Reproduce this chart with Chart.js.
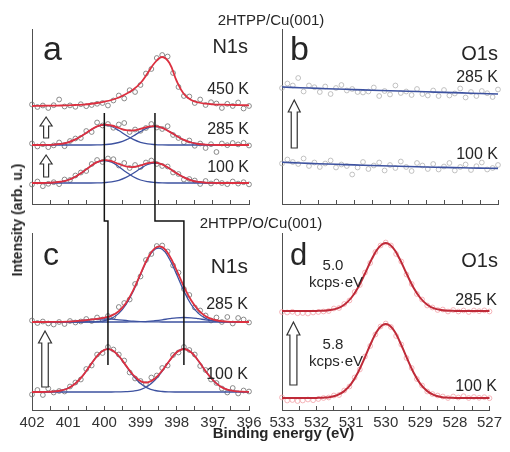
<!DOCTYPE html>
<html><head><meta charset="utf-8">
<title>2HTPP XPS</title>
<script src="https://cdn.jsdelivr.net/npm/chart.js@4.4.1/dist/chart.umd.min.js"></script>
<style>
html,body{margin:0;padding:0;background:#fff;}
#wrap{position:relative;width:510px;height:452px;overflow:hidden;font-family:"Liberation Sans",Arial,Helvetica,sans-serif;color:#262626;background:#fff;}
#wrap canvas{position:absolute;left:0;top:0;}
.lbl{position:absolute;white-space:nowrap;line-height:1;}
</style></head><body>
<div id="wrap">
<canvas id="cA" width="510" height="452"></canvas>
<canvas id="cB" width="510" height="452"></canvas>
<canvas id="cC" width="510" height="452"></canvas>
<canvas id="cD" width="510" height="452"></canvas>
<canvas id="cO" width="510" height="452"></canvas>
</div>
<script>
// ---------- DATA ----------
// energy grids (eV)
const nGrid = [402.0,401.8,401.6,401.4,401.2,401.0,400.8,400.6,400.4,400.2,400.0,399.8,399.6,399.4,399.2,399.0,398.8,398.6,398.4,398.2,398.0,397.8,397.6,397.4,397.2,397.0,396.8,396.6,396.4,396.2,396.0];
const oGrid = [533.0,532.8,532.6,532.4,532.2,532.0,531.8,531.6,531.4,531.2,531.0,530.8,530.6,530.4,530.2,530.0,529.8,529.6,529.4,529.2,529.0,528.8,528.6,528.4,528.2,528.0,527.8,527.6,527.4,527.2,527.0];
const bGrid = [533.0,532.5,532.0,531.5,531.0,530.5,530.0,529.5,529.0,528.5,528.0,527.5,527.0];
const nPtsE = [402.00,401.85,401.70,401.55,401.40,401.25,401.10,400.95,400.80,400.65,400.50,400.35,400.20,400.05,399.90,399.75,399.60,399.45,399.30,399.15,399.00,398.85,398.70,398.55,398.40,398.25,398.10,397.95,397.80,397.65,397.50,397.35,397.20,397.05,396.90,396.75,396.60,396.45,396.30,396.15,396.00];
const oPtsE = [533.00,532.85,532.70,532.55,532.40,532.25,532.10,531.95,531.80,531.65,531.50,531.35,531.20,531.05,530.90,530.75,530.60,530.45,530.30,530.15,530.00,529.85,529.70,529.55,529.40,529.25,529.10,528.95,528.80,528.65,528.50,528.35,528.20,528.05,527.90,527.75,527.60,527.45,527.30,527.15,527.00];

// panel a: 2HTPP/Cu(001) N1s
const a450Fit = [98.0,98.2,98.3,98.4,98.5,98.7,99.0,99.4,100.0,101.0,102.3,104.0,106.5,110.0,114.5,121.0,131.0,141.5,147.0,141.0,123.0,110.0,104.0,101.5,100.3,99.7,99.4,99.2,99.0,98.8,98.7];
const a450Pts = [99.5,97.0,98.5,96.0,98.8,104.5,97.5,98.6,97.2,99.8,97.8,99.0,100.2,101.0,98.5,103.5,108.5,105.5,113.8,112.0,119.0,130.5,135.0,146.0,149.0,147.5,131.0,117.0,108.0,107.5,101.0,104.5,99.0,101.8,100.5,96.0,100.2,98.0,101.5,95.5,98.0];
const a285Fit = [59.0,59.0,59.1,59.4,60.1,61.7,64.6,68.7,73.5,77.6,79.4,78.5,76.0,73.8,73.6,75.1,77.2,77.9,76.2,72.4,68.0,64.1,61.5,60.0,59.4,59.1,59.0,59.0,59.0,59.0,59.0];
const a285CompL = [59.0,59.0,59.1,59.4,60.1,61.7,64.6,68.7,73.5,77.5,79.0,77.5,73.5,68.7,64.6,61.7,60.1,59.4,59.1,59.0,59.0,59.0,59.0,59.0,59.0,59.0,59.0,59.0,59.0,59.0,59.0];
const a285CompR = [59.0,59.0,59.0,59.0,59.0,59.0,59.0,59.0,59.0,59.1,59.4,60.0,61.5,64.1,68.0,72.4,76.1,77.5,76.1,72.4,68.0,64.1,61.5,60.0,59.4,59.1,59.0,59.0,59.0,59.0,59.0];
const a285Pts = [60.5,57.5,59.8,56.8,58.6,61.5,57.8,63.0,65.5,66.0,73.0,72.0,81.5,78.5,80.0,76.2,79.5,81.0,72.0,74.5,73.2,76.0,80.0,76.5,75.0,77.8,69.0,66.0,61.8,63.5,58.2,60.5,56.0,59.8,52.0,60.5,58.8,61.0,59.6,61.2,58.5];
const a100Fit = [21.0,21.0,21.1,21.5,22.3,24.0,27.3,32.0,37.3,41.9,43.9,42.9,40.0,37.6,37.0,38.5,40.8,41.5,39.6,35.5,30.7,26.6,23.7,22.1,21.4,21.1,21.0,21.0,21.0,21.0,21.0];
const a100CompL = [21.0,21.0,21.1,21.5,22.3,24.0,27.3,32.0,37.3,41.8,43.5,41.8,37.3,32.0,27.3,24.0,22.3,21.5,21.1,21.0,21.0,21.0,21.0,21.0,21.0,21.0,21.0,21.0,21.0,21.0,21.0];
const a100CompR = [21.0,21.0,21.0,21.0,21.0,21.0,21.0,21.0,21.0,21.1,21.4,22.1,23.7,26.6,30.7,35.5,39.5,41.0,39.5,35.5,30.7,26.6,23.7,22.1,21.4,21.1,21.0,21.0,21.0,21.0,21.0];
const a100Pts = [19.5,22.5,17.8,20.2,21.8,19.8,24.5,24.0,28.5,31.5,33.0,40.0,44.0,42.0,45.5,44.8,38.5,41.0,36.0,39.0,37.0,41.5,43.5,40.0,38.0,37.5,31.5,30.0,24.5,25.0,23.5,20.0,23.0,20.5,22.5,21.0,19.8,22.5,20.4,21.8,19.6];

// panel b: 2HTPP/Cu(001) O1s
const b285Fit = [117.0,116.3,115.6,115.0,114.4,113.8,113.3,112.7,112.2,111.6,111.1,110.5,110.0];
const b285Pts = [116.0,120.5,118.5,126.0,112.5,118.5,116.8,112.0,117.5,110.0,116.0,119.0,113.5,115.0,112.0,111.5,112.5,116.5,108.0,113.0,109.5,118.5,111.0,112.5,109.0,115.0,110.0,108.5,113.5,108.0,114.0,108.5,110.5,115.5,106.5,112.0,108.0,113.0,110.8,107.0,114.5];
const b100Fit = [41.7,41.0,40.3,39.7,39.1,38.5,38.0,37.5,37.0,36.6,36.2,35.9,35.6];
const b100Pts = [40.5,44.5,42.0,40.0,45.5,38.0,41.5,37.0,40.5,43.5,36.5,39.5,38.0,29.5,36.5,42.0,35.0,38.5,41.5,33.5,39.0,36.0,42.5,37.0,33.0,41.0,38.5,35.0,40.0,34.5,37.5,41.0,33.5,37.0,39.5,34.0,37.8,41.5,34.5,36.0,39.0];

// panel c: 2HTPP/O/Cu(001) N1s
const c285Fit = [88.0,88.0,88.0,88.1,88.2,88.4,88.8,89.5,90.3,91.2,92.3,94.4,98.8,107.0,119.8,136.0,151.8,161.9,162.9,154.3,139.6,123.4,109.7,99.9,93.8,90.6,89.0,88.4,88.1,88.0,88.0];
const c285CompM = [88.0,88.0,88.0,88.0,88.0,88.0,88.0,88.0,88.1,88.4,89.3,91.6,96.6,105.5,118.9,135.4,151.0,160.7,160.7,151.0,135.4,118.9,105.5,96.6,91.6,89.3,88.4,88.1,88.0,88.0,88.0];
const c285CompL = [88.0,88.0,88.0,88.1,88.2,88.4,88.8,89.5,90.2,90.8,91.0,90.8,90.2,89.5,88.8,88.4,88.2,88.1,88.0,88.0,88.0,88.0,88.0,88.0,88.0,88.0,88.0,88.0,88.0,88.0,88.0];
const c285CompR = [88.0,88.0,88.0,88.0,88.0,88.0,88.0,88.0,88.0,88.0,88.0,88.0,88.0,88.0,88.1,88.3,88.6,89.3,90.2,91.3,92.2,92.5,92.2,91.3,90.2,89.3,88.6,88.3,88.1,88.0,88.0];
const c285Pts = [89.5,87.0,88.5,86.5,85.5,88.0,86.0,89.0,87.5,88.5,91.0,89.0,92.5,90.5,94.0,93.5,103.0,107.0,110.5,126.0,133.5,150.0,156.0,164.0,164.5,158.5,144.5,137.5,121.0,115.0,102.5,99.5,94.5,89.5,92.5,88.0,93.0,86.5,92.0,90.5,87.5];
const c100Fit = [18.0,18.0,18.1,18.5,19.5,21.8,26.5,34.1,44.1,53.9,60.1,60.1,54.0,44.4,35.0,28.9,27.6,31.5,39.4,49.3,57.7,61.0,57.7,49.2,38.9,30.0,23.8,20.4,18.9,18.3,18.1];
const c100CompL = [18.0,18.0,18.1,18.5,19.5,21.8,26.5,34.1,44.1,53.9,60.1,60.1,53.9,44.1,34.1,26.5,21.8,19.5,18.5,18.1,18.0,18.0,18.0,18.0,18.0,18.0,18.0,18.0,18.0,18.0,18.0];
const c100CompR = [18.0,18.0,18.0,18.0,18.0,18.0,18.0,18.0,18.0,18.0,18.0,18.0,18.1,18.3,18.9,20.4,23.8,30.0,38.9,49.2,57.7,61.0,57.7,49.2,38.9,30.0,23.8,20.4,18.9,18.3,18.1];
const c100Pts = [15.5,20.0,15.0,21.5,17.5,19.0,18.5,23.5,27.5,30.5,41.0,44.5,55.5,57.0,63.0,60.5,55.5,49.5,37.5,31.5,29.0,26.0,32.5,34.5,42.0,44.5,55.0,57.5,63.0,60.0,55.5,44.0,40.0,30.5,27.0,21.5,17.5,22.0,16.5,19.5,18.5];

// panel d: 2HTPP/O/Cu(001) O1s
const d285Fit = [99.0,99.0,99.0,99.0,99.0,99.1,99.3,100.0,101.6,105.3,112.0,122.6,136.5,151.2,162.6,167.0,162.6,151.2,136.5,122.6,112.0,105.3,101.6,100.0,99.3,99.1,99.0,99.0,99.0,99.0,99.0];
const d285Pts = [98.0,97.5,98.2,96.8,97.0,96.5,97.5,98.0,98.5,99.0,101.5,102.0,106.0,109.5,118.0,125.0,137.5,147.0,158.0,164.5,167.5,164.5,156.0,148.5,135.5,126.0,116.0,110.5,104.5,102.5,100.0,100.5,98.5,100.0,98.5,99.5,98.0,99.5,98.8,99.6,98.5];
const d100Fit = [12.0,12.0,12.0,12.0,12.0,12.1,12.35,13.1,14.9,18.9,26.1,37.7,52.8,68.8,81.3,86.0,81.3,68.8,52.8,37.7,26.1,18.9,14.9,13.1,12.35,12.1,12.0,12.0,12.0,12.0,12.0];
const d100Pts = [12.5,9.5,10.0,9.0,9.5,10.5,9.8,11.0,12.0,12.5,14.5,15.0,19.5,23.5,32.5,40.5,53.5,64.0,75.5,83.5,86.5,83.0,74.0,65.5,52.0,42.0,31.0,24.5,18.5,16.0,14.5,13.5,12.0,13.5,12.5,13.8,12.0,13.0,12.2,12.8,11.8];

// ---------- STYLE / LAYOUT ----------
const RED = '#dc3040', BLUE = '#3d52a0', GRAY = '#6e6e6e', LGRAY = '#b2b2b2', PINK = '#f2a2a8', DRED = '#bf2a38', AX = '#505050';
const FONT = '"Liberation Sans", Arial, Helvetica, sans-serif';
const W = 510, H = 452, LABEL_H = 30;

const xy = (xs, ys) => xs.map((x, i) => ({x: x, y: ys[i]}));
const line = (xs, ys, color, w, order) => ({data: xy(xs, ys), showLine: true, borderColor: color, borderWidth: w, pointRadius: 0, tension: 0.4, order: order, clip: 2});
const dots = (xs, ys, color, order) => ({data: xy(xs, ys), showLine: false, pointRadius: 2.4, pointBorderWidth: 0.8, pointBorderColor: color, pointBackgroundColor: 'rgba(0,0,0,0)', order: order, clip: 4});

function xScale(min, max, showLabels) {
  return {
    type: 'linear', position: 'bottom', min: min, max: max, reverse: true,
    afterFit: s => { s.height = showLabels ? LABEL_H : 0; },
    ticks: {stepSize: 0.5, autoSkip: false, maxRotation: 0, minRotation: 0, padding: 8, color: '#333',
      font: {family: FONT, size: 15},
      callback: v => (showLabels && Math.abs(v - Math.round(v)) < 1e-6) ? String(Math.round(v)) : ''},
    grid: {display: true, drawOnChartArea: false, drawTicks: true, tickLength: -4, color: AX, lineWidth: 1},
    border: {display: true, color: AX, width: 1}
  };
}
function yScale(max) {
  return {
    type: 'linear', position: 'left', min: 0, max: max,
    afterFit: s => { s.width = 0; },
    ticks: {display: false},
    grid: {display: true, drawOnChartArea: false, drawTicks: false},
    border: {display: true, color: AX, width: 1}
  };
}
function makeChart(id, datasets, xs, ys, pad) {
  return new Chart(document.getElementById(id), {
    type: 'scatter',
    data: {datasets: datasets},
    options: {
      responsive: false, maintainAspectRatio: false, animation: false, devicePixelRatio: 1, events: [],
      layout: {padding: pad},
      plugins: {legend: {display: false}, tooltip: {enabled: false}},
      scales: {x: xs, y: ys}
    }
  });
}

const chartA = makeChart('cA', [
  line(nGrid, a450Fit, RED, 1.8, 0), line(nGrid, a285Fit, RED, 1.8, 0), line(nGrid, a100Fit, RED, 1.8, 0),
  line(nGrid, a285CompL, BLUE, 1.3, 1), line(nGrid, a285CompR, BLUE, 1.3, 1),
  line(nGrid, a100CompL, BLUE, 1.3, 1), line(nGrid, a100CompR, BLUE, 1.3, 1),
  dots(nPtsE, a450Pts, GRAY, 2), dots(nPtsE, a285Pts, GRAY, 2), dots(nPtsE, a100Pts, GRAY, 2)
], xScale(396, 402, false), yScale(175), {left: 32, top: 29, right: W - 249, bottom: H - 204});

const chartB = makeChart('cB', [
  line(bGrid, b285Fit, BLUE, 1.6, 0), line(bGrid, b100Fit, BLUE, 1.6, 0),
  dots(oPtsE, b285Pts, LGRAY, 2), dots(oPtsE, b100Pts, LGRAY, 2)
], xScale(527, 533, false), yScale(175), {left: 282, top: 29, right: W - 498, bottom: H - 204});

const chartC = makeChart('cC', [
  line(nGrid, c285Fit, RED, 1.8, 0), line(nGrid, c100Fit, RED, 1.8, 0),
  line(nGrid, c285CompM, BLUE, 1.3, 1), line(nGrid, c285CompL, BLUE, 1.3, 1), line(nGrid, c285CompR, BLUE, 1.3, 1),
  line(nGrid, c100CompL, BLUE, 1.3, 1), line(nGrid, c100CompR, BLUE, 1.3, 1),
  dots(nPtsE, c285Pts, GRAY, 2), dots(nPtsE, c100Pts, GRAY, 2)
], xScale(396, 402, true), yScale(177), {left: 32, top: 233, right: W - 249, bottom: H - 410 - LABEL_H});

const chartD = makeChart('cD', [
  line(oGrid, d285Fit, DRED, 2.0, 0), line(oGrid, d100Fit, DRED, 2.0, 0),
  dots(oPtsE, d285Pts, PINK, 2), dots(oPtsE, d100Pts, PINK, 2)
], xScale(527, 533, true), yScale(177), {left: 282, top: 233, right: W - 498, bottom: H - 410 - LABEL_H});

// ---------- overlay: guide lines and arrows ----------
const ov = document.getElementById('cO').getContext('2d');
function P(ch, x, y) { return [ch.scales.x.getPixelForValue(x), ch.scales.y.getPixelForValue(y)]; }
const guides = [
  {xa: 400.0, xc: 399.9}, {xa: 398.6, xc: 397.8}
];
ov.strokeStyle = '#111'; ov.lineWidth = 1.5;
guides.forEach(g => {
  const t = P(chartA, g.xa, 91), j = P(chartA, g.xa, -17), jc = P(chartC, g.xc, 0), b = P(chartC, g.xc, 45);
  ov.beginPath(); ov.moveTo(t[0], t[1]); ov.lineTo(j[0], j[1]); ov.lineTo(jc[0], j[1]); ov.lineTo(b[0], b[1]); ov.stroke();
});
const arrows = [
  {c: chartA, x: 401.61, y0: 66, y1: 87, hw: 12, hh: 9, sw: 5},
  {c: chartA, x: 401.61, y0: 27, y1: 49, hw: 12, hh: 9, sw: 5},
  {c: chartB, x: 532.66, y0: 56, y1: 104, hw: 12, hh: 12, sw: 6},
  {c: chartC, x: 401.64, y0: 23, y1: 79, hw: 13, hh: 12, sw: 6.5},
  {c: chartD, x: 532.67, y0: 25, y1: 88, hw: 13, hh: 13, sw: 7}
];
ov.strokeStyle = '#333'; ov.lineWidth = 1.2; ov.fillStyle = '#fff';
arrows.forEach(a => {
  const t = P(a.c, a.x, a.y1), b = P(a.c, a.x, a.y0), cx = t[0], ty = t[1], by = b[1];
  ov.beginPath();
  ov.moveTo(cx, ty); ov.lineTo(cx + a.hw / 2, ty + a.hh); ov.lineTo(cx + a.sw / 2, ty + a.hh);
  ov.lineTo(cx + a.sw / 2, by); ov.lineTo(cx - a.sw / 2, by); ov.lineTo(cx - a.sw / 2, ty + a.hh);
  ov.lineTo(cx - a.hw / 2, ty + a.hh); ov.closePath(); ov.fill(); ov.stroke();
});

// ---------- text ----------
const wrap = document.getElementById('wrap');
const labels = [
  ['2HTPP/Cu(001)', 271, 25, 15, 'c', false],
  ['2HTPP/O/Cu(001)', 261, 228, 15, 'c', false],
  ['a', 43, 60, 34, 'l', false], ['b', 290, 60, 34, 'l', false],
  ['c', 43, 265, 32, 'l', false], ['d', 290, 265, 31, 'l', false],
  ['N1s', 248, 53, 20, 'r', false], ['N1s', 248, 273, 21, 'r', false],
  ['O1s', 498, 60, 20, 'r', false], ['O1s', 498, 267, 20, 'r', false],
  ['450 K', 249, 95, 16, 'r', false], ['285 K', 249, 135, 16, 'r', false], ['100 K', 249, 173, 16, 'r', false],
  ['285 K', 498, 83, 16, 'r', false], ['100 K', 498, 160, 16, 'r', false],
  ['285 K', 248, 310, 16, 'r', false], ['100 K', 248, 380, 16, 'r', false],
  ['285 K', 497, 306, 16, 'r', false], ['100 K', 497, 392, 16, 'r', false],
  ['5.0', 333, 270, 15, 'c', false], ['kcps\u00b7eV', 336, 287, 15, 'c', false],
  ['5.8', 333, 349, 15, 'c', false], ['kcps\u00b7eV', 336, 366, 15, 'c', false],
  ['Binding energy (eV)', 283.5, 438, 15, 'c', true]
];
labels.forEach(l => {
  const d = document.createElement('div');
  d.className = 'lbl'; d.textContent = l[0]; d.style.fontSize = l[3] + 'px';
  if (l[5]) d.style.fontWeight = 'bold';
  d.style.top = (l[2] - 0.8465 * l[3]) + 'px';
  if (l[4] === 'l') d.style.left = l[1] + 'px';
  else if (l[4] === 'r') d.style.right = (W - l[1]) + 'px';
  else { d.style.left = l[1] + 'px'; d.style.transform = 'translateX(-50%)'; }
  wrap.appendChild(d);
});
const yt = document.createElement('div');
yt.className = 'lbl'; yt.textContent = 'Intensity (arb. u.)';
yt.style.fontSize = '14px'; yt.style.fontWeight = 'bold';
yt.style.left = '17px'; yt.style.top = '220px';
yt.style.transform = 'translate(-50%,-50%) rotate(-90deg)';
wrap.appendChild(yt);
</script>
</body></html>
